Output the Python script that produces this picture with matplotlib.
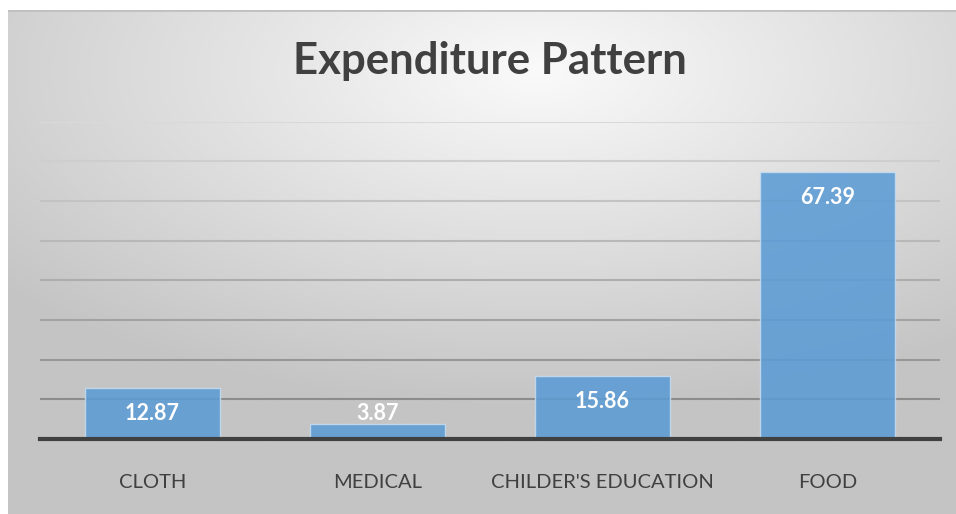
import numpy as np
import matplotlib.pyplot as plt
from matplotlib.colors import LinearSegmentedColormap

categories = ["CLOTH", "MEDICAL", "CHILDER'S EDUCATION", "FOOD"]
values = [12.87, 3.87, 15.86, 67.39]
label_text = ["12.87", "3.87", "15.86", "67.39"]
title = "Expenditure Pattern"

plt.rcParams['font.family'] = ['Lato', 'DejaVu Sans']

W, H = 956, 514
fig = plt.figure(figsize=(W / 100, H / 100), dpi=100)
fig.patch.set_facecolor("white")

# radial grey gradient behind the chart
bg = fig.add_axes([8 / W, 0, (W - 8) / W, (H - 10) / H])
yy, xx = np.mgrid[0:1:300j, 0:1:500j]
r = np.sqrt(((xx - 0.56) / 1.0) ** 2 + ((yy - 0.12) / 0.9) ** 2)
grad = np.clip(r / 0.75, 0, 1)
cmap = LinearSegmentedColormap.from_list("bg", ["#fafafa", "#c4c4c4"])
bg.imshow(grad, cmap=cmap, aspect="auto", extent=[0, 1, 0, 1], origin="upper", vmin=0, vmax=1)
bg.set_xlim(0, 1)
bg.set_ylim(0, 1)
bg.axis("off")
bg.axhline(1, color="#c0c0c0", lw=2)

ax = fig.add_axes([40 / W, (H - 439) / H, 900 / W, (439 - 121.7) / H])
ax.patch.set_alpha(0)
x = np.arange(len(categories))
ax.set_xlim(-0.5, len(categories) - 0.5)
ax.set_ylim(0, 80)

grid_y = np.arange(10, 81, 10)
for i, gy in enumerate(grid_y):
    t = i / (len(grid_y) - 1)
    c = (0.55 + 0.3 * t,) * 3
    ax.axhline(gy, color=c, lw=1.5, zorder=1)

ax.bar(x, values, width=0.6, color="#5b9bd5", alpha=0.87,
       edgecolor="#c5dcf0", linewidth=1, zorder=2)
ax.axhline(0, color="#404040", lw=3, zorder=3, clip_on=False)

for xi, v, s in zip(x, values, label_text):
    ax.text(xi, max(v - 6.5, 6.4), s, ha="center", va="center",
            color="white", fontsize=15.5, fontweight="bold", zorder=4)

ax.set_xticks(x)
ax.set_xticklabels(categories, fontsize=14.5, color="#404040")
ax.tick_params(axis="x", length=0, pad=25.5)
ax.set_yticks([])
for sp in ax.spines.values():
    sp.set_visible(False)

fig.text(490 / W, 1 - 74 / H, title, ha="center", va="baseline",
         fontsize=31.5, fontweight="bold", color="#404040")

fig.savefig("out.png", dpi=100)
plt.close()
